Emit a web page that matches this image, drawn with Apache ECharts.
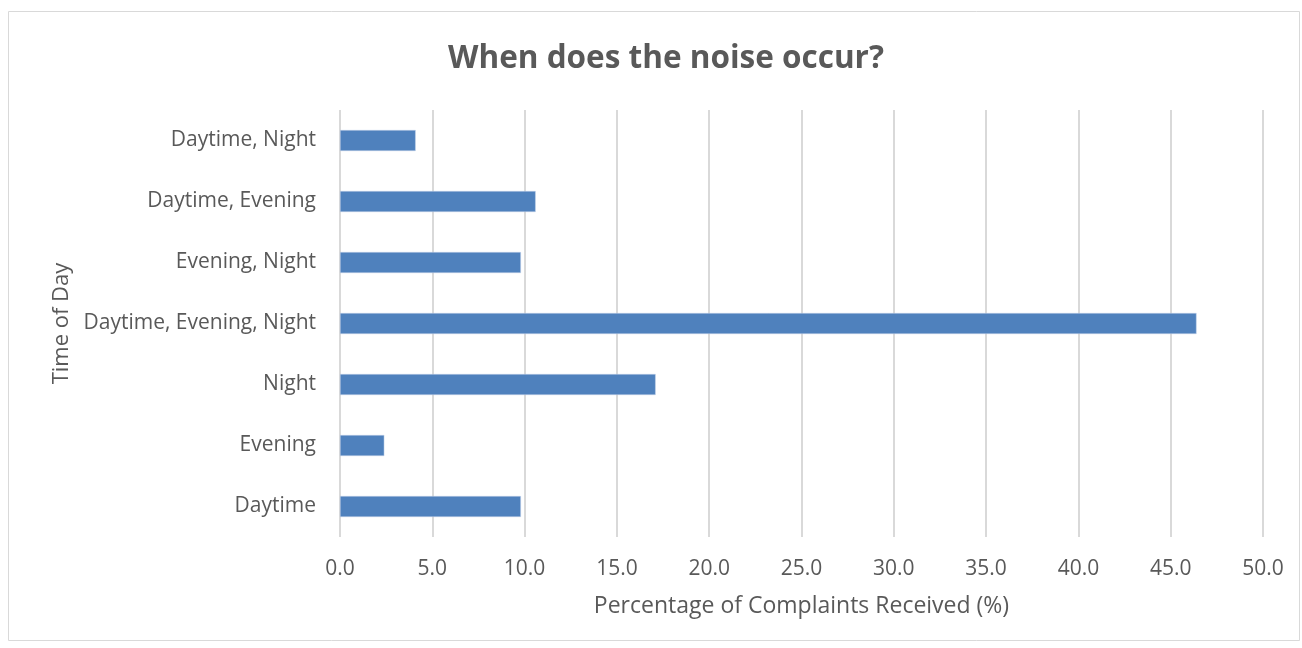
<!DOCTYPE html>
<html>
<head>
<meta charset="utf-8">
<script src="https://cdn.jsdelivr.net/npm/echarts@6/dist/echarts.min.js"></script>
<style>
html,body{margin:0;padding:0;background:#fff;}
#chart{width:1302px;height:648px;}
</style>
</head>
<body>
<div id="chart"></div>
<script>
const categories = ["Daytime", "Evening", "Night", "Daytime, Evening, Night", "Evening, Night", "Daytime, Evening", "Daytime, Night"];
const values = [9.8, 2.4, 17.1, 46.4, 9.8, 10.6, 4.1];
const titleText = "When does the noise occur?";
const xAxisName = "Percentage of Complaints Received (%)";
const yAxisName = "Time of Day";

const chart = echarts.init(document.getElementById('chart'));
const font = "'Open Sans', 'Liberation Sans', sans-serif";
chart.setOption({
  animation: false,
  title: {
    text: titleText,
    left: 443, top: 38,
    textStyle: {fontFamily: font, fontSize: 31.5, fontWeight: 'bold', color: '#595959'}
  },
  graphic: [{
    type: 'rect', shape: {x: 8.5, y: 11.5, width: 1291, height: 629},
    style: {fill: 'none', stroke: '#d9d9d9', lineWidth: 1}, silent: true, z: -1
  }],
  grid: {left: 340, right: 39, top: 110, bottom: 111, containLabel: false},
  xAxis: {
    type: 'value', min: 0, max: 50, interval: 5,
    name: xAxisName, nameLocation: 'middle', nameGap: 58,
    nameTextStyle: {fontFamily: font, fontSize: 23, color: '#595959'},
    axisLine: {show: false}, axisTick: {show: false},
    axisLabel: {fontFamily: font, fontSize: 21, color: '#595959', margin: 22,
      formatter: v => v.toFixed(1)},
    splitLine: {show: true, lineStyle: {color: '#d9d9d9', width: 2}}
  },
  yAxis: {
    type: 'category', data: categories,
    name: yAxisName, nameLocation: 'middle', nameGap: 266, nameRotate: 90,
    nameTextStyle: {fontFamily: font, fontSize: 22, color: '#595959'},
    axisLine: {show: false}, axisTick: {show: false},
    axisLabel: {fontFamily: font, fontSize: 21, color: '#595959', margin: 24, padding: [3, 0, 0, 0]},
    splitLine: {show: false}
  },
  series: [{
    type: 'bar', data: values, barWidth: 21,
    itemStyle: {color: '#4f81bd', borderColor: '#c6d4ea', borderWidth: 0.5}
  }]
});
</script>
</body>
</html>
